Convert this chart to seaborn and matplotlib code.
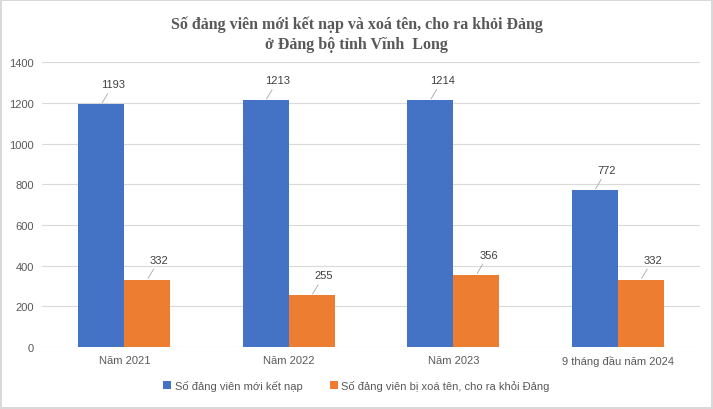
import pandas as pd
import matplotlib
matplotlib.use("Agg")
import matplotlib.pyplot as plt
import seaborn as sns

# data
categories = ["Năm 2021", "Năm 2022", "Năm 2023", "9 tháng đầu năm 2024"]
series_names = ["Số đảng viên mới kết nạp", "Số đảng viên bị xoá tên, cho ra khỏi Đảng"]
new_members = [1193, 1213, 1214, 772]
removed_members = [332, 255, 356, 332]
colors = ["#4472C4", "#ED7D31"]

df = pd.DataFrame({
    "period": categories * 2,
    "series": [series_names[0]] * 4 + [series_names[1]] * 4,
    "value": new_members + removed_members,
})

sns.set_style("white")
plt.rcParams["font.family"] = ["Liberation Sans", "DejaVu Sans"]

fig = plt.figure(figsize=(7.13, 4.10), dpi=100)
fig.patch.set_edgecolor("#D9D9D9")
fig.patch.set_linewidth(1.5)
ax = fig.add_axes([0.059, 0.151, 0.923, 0.695])

sns.barplot(data=df, x="period", y="value", hue="series", palette=colors,
            width=0.56, gap=0, saturation=1, linewidth=0, ax=ax, legend=True)

ax.set_ylim(0, 1400)
ax.set_yticks(range(0, 1401, 200))
ax.yaxis.grid(True, color="#D9D9D9", linewidth=0.8)
ax.set_axisbelow(True)
for s in ax.spines.values():
    s.set_visible(False)
ax.tick_params(axis="both", length=0, labelsize=8, colors="#595959", pad=6)
ax.set_xlabel("")
ax.set_ylabel("")

# data labels with leader lines
for cont in ax.containers:
    for bar in cont:
        h = bar.get_height()
        x = bar.get_x() + bar.get_width() / 2
        ax.annotate(f"{int(round(h))}", xy=(x, h), xytext=(12, 20),
                    textcoords="offset pixels", ha="center", va="center",
                    fontsize=8, color="#404040",
                    arrowprops=dict(arrowstyle="-", color="#A6A6A6", lw=0.6,
                                    shrinkA=1, shrinkB=1))

handles, labels = ax.get_legend_handles_labels()
ax.legend_.remove()
fig.legend(handles, labels, loc="center", bbox_to_anchor=(0.5, 0.058), ncol=2,
           frameon=False, fontsize=8, handlelength=0.7, handleheight=0.7,
           handletextpad=0.3, columnspacing=2.5, labelcolor="#595959")

fig.text(0.5, 0.96, "Số đảng viên mới kết nạp và xoá tên, cho ra khỏi Đảng\nở Đảng bộ tỉnh Vĩnh  Long",
         ha="center", va="top", fontsize=11.5, fontweight="bold",
         family=["Liberation Serif", "DejaVu Serif"], color="#595959",
         linespacing=1.3)

fig.savefig("out.png", dpi=100)
